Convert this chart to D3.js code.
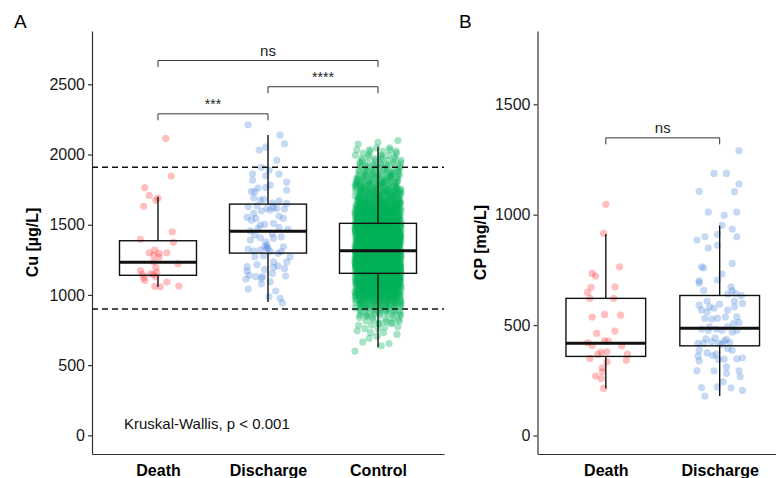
<!DOCTYPE html>
<html>
<head>
<meta charset="utf-8">
<script src="https://cdn.jsdelivr.net/npm/d3@7"></script>
<style>
	body { margin: 0; background: #fff; }
	svg { display: block; font-family: 'Liberation Sans', Arial, sans-serif; }
</style>
</head>
<body>
<div class="svg-container"></div>
<script>
// ---- data ----
const catsA = ['Death', 'Discharge', 'Control'];
const catsB = ['Death', 'Discharge'];

// box statistics (whisker low, q1, median, q3, whisker high)
const cuLow = [1058, 949, 627];
const cuQ1 = [1140, 1298, 1154];
const cuMed = [1232, 1453, 1315];
const cuQ3 = [1386, 1647, 1510];
const cuHigh = [1700, 2139, 2055];

const cpLow = [213, 179];
const cpQ1 = [358, 406];
const cpMed = [418, 486];
const cpQ3 = [621, 634];
const cpHigh = [912, 950];

// reference range for Cu (dashed lines)
const cuRef = [900, 1910];

// individual points (value) and their horizontal jitter (fraction of category step)
const cuDeath = [2115, 1847, 1764, 1709, 1674, 1690, 1631, 1450, 1396, 1375, 1320, 1300, 1296, 1300, 1282, 1270, 1236, 1222, 1197, 1172, 1161, 1147, 1151, 1147, 1123, 1104, 1128, 1092, 1061, 1058, 1063];
const cuDeathJit = [.07, .12, -.12, -.08, -.02, 0, -.13, .13, -.16, .14, -.03, -.08, .01, .08, -.04, .01, -.04, .18, -.02, -.16, -.01, -.14, -.07, -.04, -.13, -.12, -.02, .08, -.03, .02, .19];

const cuDischarge = [2212, 2139, 2077, 2032, 2053, 1959, 1909, 1890, 1863, 1861, 1849, 1818, 1804, 1783, 1761, 1745, 1738, 1735, 1764, 1692, 1676, 1681, 1671, 1655, 1652, 1628, 1635, 1617, 1621, 1612, 1553, 1581, 1597, 1562, 1545, 1498, 1503, 1510, 1481, 1467, 1457, 1427, 1407, 1434, 1403, 1379, 1414, 1327, 1313, 1341, 1332, 1308, 1308, 1272, 1272, 1279, 1201, 1215, 1197, 1206, 1189, 1170, 1182, 1154, 1140, 1130, 1130, 1135, 1113, 1078, 1094, 1042, 987, 1028, 976, 944, 1118, 1355, 1545, 1605, 1617, 1533, 1474, 1343, 1391, 1296, 1332, 1320, 1236, 1236];
const cuDischargeJit = [-.18, .11, .15, -.08, -.02, .08, -.06, .01, -.14, .10, -.02, -.14, .17, .02, -.09, .17, -.15, -.12, -.02, -.13, -.07, -.04, .10, .04, .17, -.18, -.10, -.01, .05, .15, -.19, -.13, -.06, .10, .14, -.07, -.03, .05, .10, .18, -.16, -.12, -.07, .04, .05, -.02, .12, -.18, -.13, -.03, 0, .02, .12, .20, -.12, -.04, -.19, -.10, .05, .09, .15, -.19, -.03, .04, -.17, -.11, -.05, .16, -.20, -.06, .02, -.18, .01, .07, .11, .13, -.06, -.01, -.11, .02, .08, -.15, -.09, .14, -.16, .09, -.01, -.07, .05, .17];

// control group is too dense to read point by point: counts per 50 ug/L bin
const cuControlBinStart = [600, 650, 700, 750, 800, 850, 900, 950, 1000, 1050, 1100, 1150, 1200, 1250, 1300, 1350, 1400, 1450, 1500, 1550, 1600, 1650, 1700, 1750, 1800, 1850, 1900, 1950, 2000, 2050];
const cuControlBinCount = [2, 3, 5, 8, 12, 20, 40, 60, 80, 100, 120, 130, 140, 145, 145, 140, 130, 120, 105, 90, 75, 60, 50, 40, 32, 25, 20, 15, 10, 3];

const cpDeath = [1047, 915, 734, 722, 764, 671, 673, 648, 621, 621, 536, 548, 545, 462, 473, 420, 408, 429, 427, 406, 368, 377, 379, 368, 349, 341, 333, 306, 288, 269, 258, 213];
const cpDeathJit = [0, -.02, -.12, -.09, .12, -.13, .08, -.16, -.14, .07, -.12, -.01, .13, -.08, .08, -.16, -.12, -.01, .02, .14, -.07, -.04, .01, .19, -.14, .18, .01, -.03, -.03, -.09, -.04, -.02];

const cpDischarge = [1290, 1187, 1187, 1139, 1106, 1104, 1012, 997, 1012, 952, 935, 885, 900, 911, 900, 849, 862, 764, 758, 779, 700, 691, 704, 731, 657, 673, 655, 640, 643, 633, 590, 609, 595, 609, 598, 568, 560, 577, 568, 530, 527, 531, 537, 537, 507, 512, 482, 477, 482, 477, 468, 477, 438, 441, 435, 417, 424, 414, 421, 386, 374, 368, 386, 359, 362, 347, 352, 338, 344, 346, 311, 293, 293, 293, 281, 266, 243, 217, 220, 216, 204, 178, 492, 492, 417, 427, 417, 583, 583, 394];
const cpDischargeJit = [.17, -.05, .06, .17, -.18, .13, -.10, .04, .15, .02, .11, -.20, -.13, -.02, .15, -.10, -.02, -.16, -.14, .11, -.18, -.18, -.02, .02, -.14, .10, .11, .07, .14, .19, -.18, -.11, 0, .13, .20, -.16, -.11, -.05, .07, -.13, -.07, -.02, .05, .15, .12, .17, -.16, -.10, -.03, .02, .11, .15, -.12, -.04, .06, -.19, -.07, .02, .09, -.18, -.11, -.03, .11, -.19, -.06, .15, .20, -.18, -.01, .04, .06, -.20, -.05, .17, .06, .18, .03, -.16, -.02, .10, .20, -.13, -.09, .07, -.01, .04, -.14, .13, -.09, .07];

// significance brackets
const cuBrackets = [
	{ a: 'Death', b: 'Discharge', y: 2290, label: '***' },
	{ a: 'Discharge', b: 'Control', y: 2483, label: '****' },
	{ a: 'Death', b: 'Control', y: 2670, label: 'ns' }
];
const cpBrackets = [{ a: 'Death', b: 'Discharge', y: 1348, label: 'ns' }];

const ticksA = [0, 500, 1000, 1500, 2000, 2500];
const ticksB = [0, 500, 1000, 1500];

// ---- drawing ----
const w = 776;
const h = 478;

const colors = { Death: '#ff2a2a', Discharge: '#3f7fdc', Control: '#00b25a' };

const svg = d3
	.select('.svg-container')
	.append('svg')
	.attr('width', w)
	.attr('height', h);

const plotTop = 31;
const plotBottom = 454;

function panel(opt) {
	const x = d3.scalePoint().domain(opt.cats).range(opt.xRange).padding(0.6);
	const y = d3.scaleLinear().domain(opt.yDomain).range([plotBottom, plotTop]);
	const step = x.step();
	const g = svg.append('g');

	// points
	const pts = g.append('g');
	opt.groups.forEach(grp => {
		pts
			.selectAll(null)
			.data(grp.values)
			.enter()
			.append('circle')
			.attr('cx', (d, i) => x(grp.cat) + (grp.jit[i] || 0) * step)
			.attr('cy', d => y(d))
			.attr('r', 3.6)
			.style('fill', colors[grp.cat])
			.style('fill-opacity', grp.alpha || 0.3)
			.style('stroke', 'none');
	});

	// boxes
	const boxW = step * 0.7;
	const boxes = g
		.selectAll('.box')
		.data(opt.cats)
		.enter()
		.append('g')
		.attr('class', 'box')
		.style('stroke', '#111')
		.style('stroke-width', 1.4);
	boxes
		.append('line')
		.attr('x1', d => x(d))
		.attr('x2', d => x(d))
		.attr('y1', (d, i) => y(opt.stats.low[i]))
		.attr('y2', (d, i) => y(opt.stats.q1[i]));
	boxes
		.append('line')
		.attr('x1', d => x(d))
		.attr('x2', d => x(d))
		.attr('y1', (d, i) => y(opt.stats.q3[i]))
		.attr('y2', (d, i) => y(opt.stats.high[i]));
	boxes
		.append('rect')
		.attr('x', d => x(d) - boxW / 2)
		.attr('y', (d, i) => y(opt.stats.q3[i]))
		.attr('width', boxW)
		.attr('height', (d, i) => y(opt.stats.q1[i]) - y(opt.stats.q3[i]))
		.style('fill', 'none');
	boxes
		.append('line')
		.attr('x1', d => x(d) - boxW / 2)
		.attr('x2', d => x(d) + boxW / 2)
		.attr('y1', (d, i) => y(opt.stats.med[i]))
		.attr('y2', (d, i) => y(opt.stats.med[i]))
		.style('stroke-width', 3);

	// brackets
	opt.brackets.forEach(b => {
		const yy = y(b.y);
		g.append('path')
			.attr('d', `M${x(b.a)},${yy + 6.5}V${yy}H${x(b.b)}V${yy + 6.5}`)
			.style('fill', 'none')
			.style('stroke', '#333')
			.style('stroke-width', 1);
		g.append('text')
			.attr('x', (x(b.a) + x(b.b)) / 2)
			.attr('y', yy - 4.5)
			.attr('text-anchor', 'middle')
			.style('font-size', b.label === 'ns' ? '15px' : '14px')
			.style('fill', '#222')
			.text(b.label);
	});

	// axes
	const ya = g
		.append('g')
		.attr('transform', `translate(${opt.xRange[0]},0)`)
		.call(
			d3
				.axisLeft(y)
				.tickValues(opt.ticks)
				.tickFormat(d3.format('d'))
				.tickSize(4)
				.tickSizeOuter(0)
				.tickPadding(3)
		);
	ya.select('.domain').style('stroke', '#333').style('stroke-width', 1.2);
	ya.selectAll('.tick line').style('stroke', '#333').style('stroke-width', 1.2);
	ya.selectAll('.tick text')
		.style('font-size', '16px')
		.style('fill', '#1a1a1a')
		.style('font-family', "'Liberation Sans', Arial, sans-serif");

	const xa = g
		.append('g')
		.attr('transform', `translate(0,${plotBottom})`)
		.call(d3.axisBottom(x).tickSize(0).tickSizeOuter(0).tickPadding(11));
	xa.select('.domain').style('stroke', '#333').style('stroke-width', 1.2);
	xa.selectAll('.tick text')
		.style('font-size', '16px')
		.style('font-weight', 'bold')
		.style('fill', '#000')
		.style('font-family', "'Liberation Sans', Arial, sans-serif");

	// titles
	svg.append('text')
		.attr('transform', `translate(${opt.titleX},${(plotTop + plotBottom) / 2}) rotate(-90)`)
		.attr('text-anchor', 'middle')
		.attr('dy', '0.35em')
		.style('font-size', '16px')
		.style('font-weight', 'bold')
		.text(opt.title);
	svg.append('text')
		.attr('x', opt.tagX)
		.attr('y', 28)
		.style('font-size', '19px')
		.text(opt.tag);

	return { x, y, g };
}

// control points: spread each bin's count over the bin and the jitter width
const cuControl = [];
const cuControlJit = [];
cuControlBinStart.forEach((lo, b) => {
	const n = cuControlBinCount[b];
	for (let i = 0; i < n; i++) {
		cuControl.push(lo + ((i * 0.7548777 + b * 0.31) % 1) * 50);
		cuControlJit.push((((i * 0.5698403 + b * 0.17) % 1) - 0.5) * 0.42);
	}
});

const pA = panel({
	cats: catsA,
	xRange: [92, 444],
	yDomain: [-133, 2880],
	ticks: ticksA,
	stats: { low: cuLow, q1: cuQ1, med: cuMed, q3: cuQ3, high: cuHigh },
	groups: [
		{ cat: 'Control', values: cuControl, jit: cuControlJit, alpha: 0.35 },
		{ cat: 'Death', values: cuDeath, jit: cuDeathJit },
		{ cat: 'Discharge', values: cuDischarge, jit: cuDischargeJit }
	],
	brackets: cuBrackets,
	title: 'Cu [µg/L]',
	titleX: 32,
	tag: 'A',
	tagX: 14
});

// dashed reference lines
pA.g
	.selectAll('.ref')
	.data(cuRef)
	.enter()
	.append('line')
	.attr('x1', 92)
	.attr('x2', 444)
	.attr('y1', d => pA.y(d))
	.attr('y2', d => pA.y(d))
	.style('stroke', '#111')
	.style('stroke-width', 1.4)
	.style('stroke-dasharray', '6,4');

pA.g
	.append('text')
	.attr('x', 124)
	.attr('y', 428.5)
	.style('font-size', '15px')
	.style('fill', '#111')
	.text('Kruskal-Wallis, p < 0.001');

panel({
	cats: catsB,
	xRange: [537.5, 788],
	yDomain: [-84, 1832],
	ticks: ticksB,
	stats: { low: cpLow, q1: cpQ1, med: cpMed, q3: cpQ3, high: cpHigh },
	groups: [
		{ cat: 'Death', values: cpDeath, jit: cpDeathJit },
		{ cat: 'Discharge', values: cpDischarge, jit: cpDischargeJit }
	],
	brackets: cpBrackets,
	title: 'CP [mg/L]',
	titleX: 480,
	tag: 'B',
	tagX: 459
});
</script>
</body>
</html>
